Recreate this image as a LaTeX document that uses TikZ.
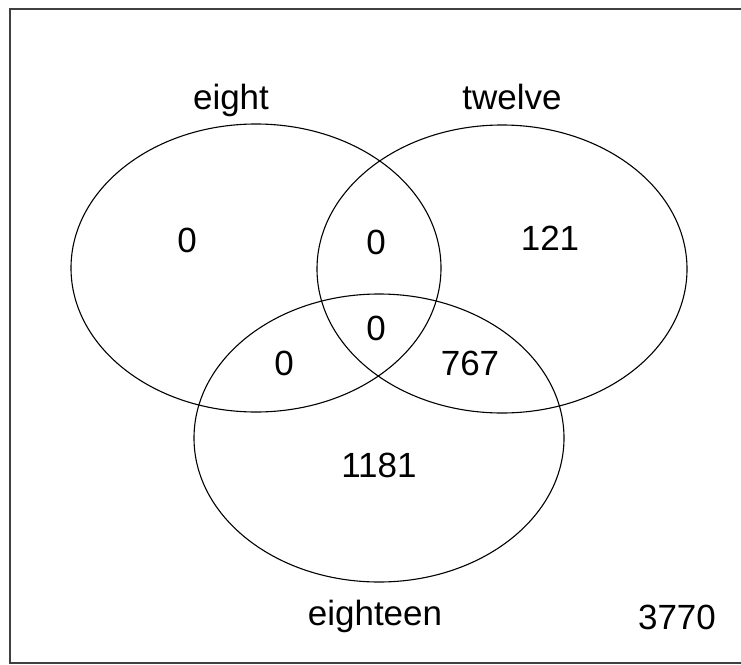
\documentclass[tikz,border=0pt]{standalone}
\usepackage{fontspec}
\setmainfont{Liberation Sans}
\usetikzlibrary{shapes.geometric}

\begin{document}
\begin{tikzpicture}[x=1pt, y=-1pt,
    vset/.style={ellipse, draw, line width=1.1pt, minimum width=370pt, minimum height=288pt, inner sep=0pt},
    region/.style={font=\fontsize{35}{42}\selectfont, inner sep=0pt},
    setlabel/.style={font=\fontsize{35}{42}\selectfont, inner sep=0pt, anchor=base}
]
\useasboundingbox (0,0) rectangle (741,664);
\draw[line width=2pt, black!75] (10,9) rectangle (760,663);

\node[vset] (eight) at (256,268) {};
\node[vset] (twelve) at (502,269) {};
\node[vset] (eighteen) at (379,438) {};

\node[setlabel] (leight) at (231,109) {eight};
\node[setlabel] (ltwelve) at (512,109) {twelve};
\node[setlabel] (leighteen) at (375,625) {eighteen};

\node[region] (n100) at (187,240) {0};
\node[region] (n110) at (376,242) {0};
\node[region] (n010) at (550,238) {121};
\node[region] (n111) at (376,328) {0};
\node[region] (n101) at (284,363) {0};
\node[region] (n011) at (470,363) {767};
\node[region] (n001) at (379,465) {1181};
\node[region] (none) at (677,617) {3770};
\end{tikzpicture}
\end{document}
